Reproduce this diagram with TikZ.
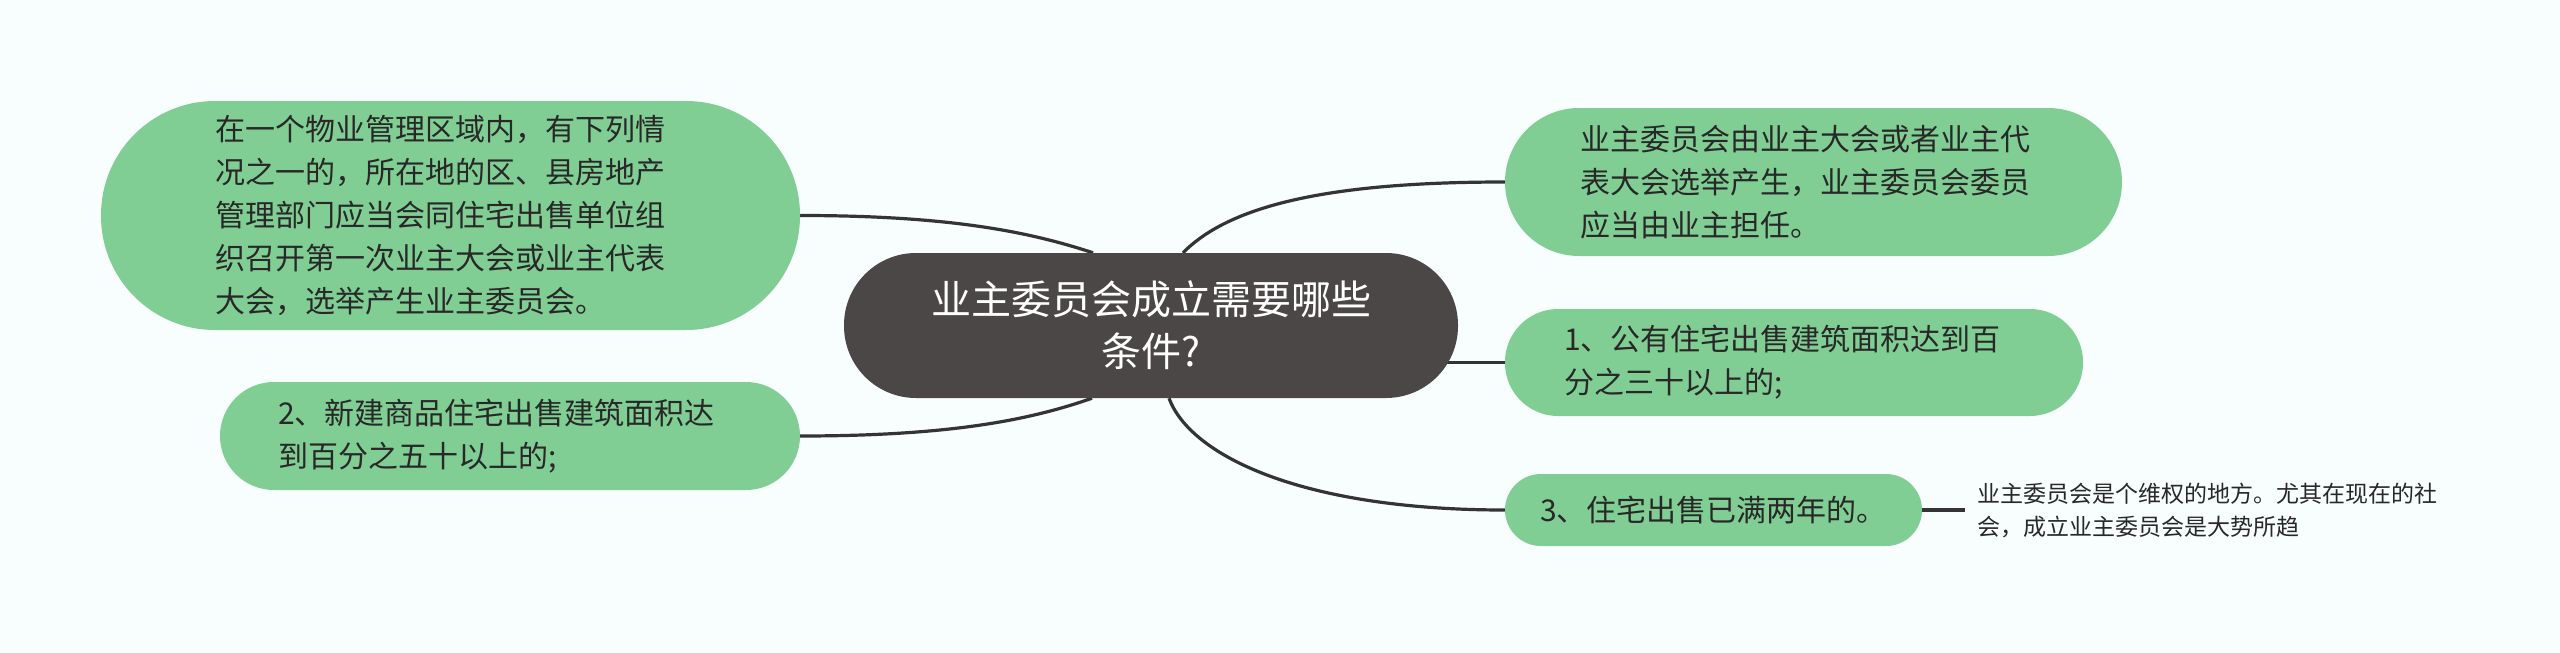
\documentclass[tikz,border=0pt]{standalone}
\usepackage{fontspec}
\setmainfont{Noto Sans CJK SC}
\usetikzlibrary{calc}
\definecolor{bgc}{RGB}{248,253,253}
\definecolor{leafc}{RGB}{128,206,148}
\definecolor{rootc}{RGB}{76,71,71}
\definecolor{inkc}{RGB}{40,40,40}
\definecolor{wirec}{RGB}{52,52,52}
\pgfdeclarelayer{back}
\pgfdeclarelayer{wires}
\pgfsetlayers{back,wires,main}
\begin{document}
\begin{tikzpicture}[x=1pt,y=-1pt,
  leafbox/.style={fill=leafc, text=inkc, inner sep=0pt, align=left, font=\fontsize{30pt}{43pt}\selectfont},
  rootbox/.style={fill=rootc, text=white, inner sep=0pt, align=center, font=\fontsize{40pt}{52pt}\selectfont},
  notebox/.style={text=inkc, inner sep=0pt, align=left, font=\fontsize{23pt}{33pt}\selectfont},
  wire/.style={draw=wirec, line width=3.2pt}]
\begin{pgfonlayer}{back}
\fill[bgc] (0,0) rectangle (2560,653);
\end{pgfonlayer}
\useasboundingbox (0,0) rectangle (2560,653);

\node[rootbox, minimum width=614pt, minimum height=145pt, rounded corners=72pt] (c) at (1151,325.5) {业主委员会成立需要哪些\\条件?};

\node[leafbox, minimum width=699pt, minimum height=229pt, rounded corners=114pt, text width=471pt] (lt) at (450.5,215.5)
  {在一个物业管理区域内，有下列情\\况之一的，所在地的区、县房地产\\管理部门应当会同住宅出售单位组\\织召开第一次业主大会或业主代表\\大会，选举产生业主委员会。};
\node[leafbox, minimum width=580pt, minimum height=108pt, rounded corners=54pt, text width=464pt] (lb) at (510,436)
  {2、新建商品住宅出售建筑面积达\\到百分之五十以上的;};
\node[leafbox, minimum width=617pt, minimum height=148pt, rounded corners=74pt, text width=467pt] (rt) at (1813.5,182)
  {业主委员会由业主大会或者业主代\\表大会选举产生，业主委员会委员\\应当由业主担任。};
\node[leafbox, minimum width=578pt, minimum height=107pt, rounded corners=53pt, text width=460pt] (rm) at (1794,362.5)
  {1、公有住宅出售建筑面积达到百\\分之三十以上的;};
\node[leafbox, minimum width=417pt, minimum height=72pt, rounded corners=36pt] (rb) at (1713.5,510)
  {3、住宅出售已满两年的。};
\node[notebox, anchor=west] (nt) at (1977,510)
  {业主委员会是个维权的地方。尤其在现在的社\\会，成立业主委员会是大势所趋};

\begin{pgfonlayer}{wires}
\draw[wire] (lt.east) .. controls (950,215.5) and (1030,232) .. ($(c.north)+(-58,0)$);
\draw[wire] (lb.east) .. controls (950,436) and (1030,420) .. ($(c.south)+(-59,0)$);
\draw[wire] (rt.west) .. controls (1330,182) and (1230,205) .. ($(c.north)+(32,0)$);
\draw[wire] (rb.west) .. controls (1300,510) and (1190,455) .. ($(c.south)+(18,0)$);
\draw[wire] (c.center |- rm.west) -- (rm.west);
\draw[wire, shorten >=12pt] (rb.east) -- (nt.west);
\end{pgfonlayer}
\end{tikzpicture}
\end{document}
